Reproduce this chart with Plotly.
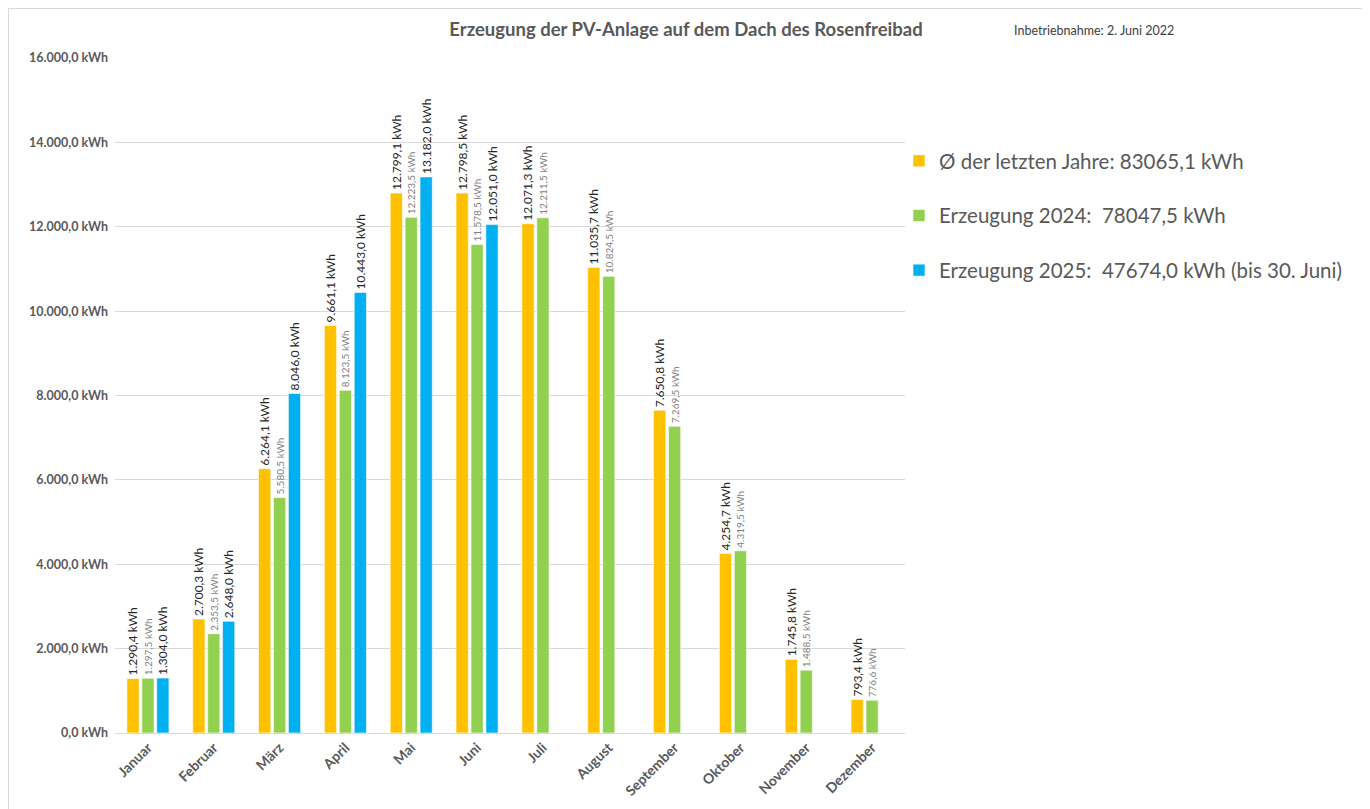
import plotly.graph_objects as go

months = ["Januar", "Februar", "März", "April", "Mai", "Juni", "Juli",
          "August", "September", "Oktober", "November", "Dezember"]
avg_years = [1290.4, 2700.3, 6264.1, 9661.1, 12799.1, 12798.5, 12071.3,
             11035.7, 7650.8, 4254.7, 1745.8, 793.4]
prod_2024 = [1297.5, 2353.5, 5580.5, 8123.5, 12223.5, 11578.5, 12211.5,
             10824.5, 7269.5, 4319.5, 1488.5, 776.6]
prod_2025 = [1304.0, 2648.0, 8046.0, 10443.0, 13182.0, 12051.0,
             None, None, None, None, None, None]
names = ["Ø der letzten Jahre: 83065,1 kWh",
         "Erzeugung 2024:  78047,5 kWh",
         "Erzeugung 2025:  47674,0 kWh (bis 30. Juni)"]
y_ticks = [0, 2000, 4000, 6000, 8000, 10000, 12000, 14000, 16000]
y_tick_text = [f"{v:,.1f}".replace(",", "X").replace(".", ",").replace("X", ".") + " kWh"
               for v in y_ticks]

FONT = "Lato, 'Open Sans', sans-serif"
GRAY = "#595959"

# page body has an 8px margin; figure coordinates are offset accordingly
OFF = 8
W, H = 1370 - OFF, 809 - OFF
L, R, T, B = 115 - OFF, 905 - OFF, 58 - OFF, 733 - OFF

fig = go.Figure()
series = [
    (avg_years, names[0], "#FFC000", 12, "#262626"),
    (prod_2024, names[1], "#92D050", 10, "#7f7f7f"),
    (prod_2025, names[2], "#00B0F0", 12, "#262626"),
]
for i, (vals, name, color, fsize, fcolor) in enumerate(series):
    fig.add_trace(go.Bar(
        x=months, y=vals, name=name, legendgroup=f"g{i}",
        marker=dict(color=color, line=dict(color="rgba(255,255,255,0.6)", width=1)),
        texttemplate="%{y:,.1f} kWh", textposition="outside", textangle=-90,
        textfont=dict(family=FONT, size=fsize, color=fcolor),
        cliponaxis=False, constraintext="none",
    ))

def px_x(p):
    return (p - OFF - L) / (R - L)

def px_y(p):
    return (B - (p - OFF)) / (B - T)

fig.update_layout(
    width=W, height=H,
    paper_bgcolor="white", plot_bgcolor="white",
    separators=",.",
    margin=dict(l=L, r=W - R, t=T, b=H - B, autoexpand=False),
    barmode="group", bargap=0.32, bargroupgap=0.18,
    font=dict(family=FONT, color=GRAY),
    title=dict(text="<b>Erzeugung der PV-Anlage auf dem Dach des Rosenfreibad</b>",
               x=(686 - OFF) / W, xref="container", xanchor="center",
               y=1 - (30 - OFF) / H, yref="container", yanchor="middle",
               font=dict(family=FONT, size=18.5, color=GRAY)),
    legend=dict(x=px_x(899), xanchor="left", y=px_y(141), yanchor="top",
                font=dict(family=FONT, size=20.5, color=GRAY),
                tracegroupgap=25, bgcolor="rgba(0,0,0,0)", itemwidth=30),
    showlegend=True,
)
fig.update_xaxes(
    tickangle=-45, showgrid=False, showline=True, linecolor="#d9d9d9",
    tickfont=dict(family=FONT, size=14, color=GRAY, weight="bold"),
    ticks="",
)
fig.update_yaxes(
    range=[0, 16000], tickvals=y_ticks, ticktext=y_tick_text,
    showgrid=True, gridcolor="#d9d9d9", gridwidth=1, zeroline=False,
    tickfont=dict(family=FONT, size=12.5, color=GRAY, weight="bold"),
    ticks="", ticklabelstandoff=6,
)
fig.add_annotation(text="Inbetriebnahme: 2. Juni 2022", xref="paper", yref="paper",
                   x=px_x(1012), y=px_y(30), xanchor="left", yanchor="middle",
                   showarrow=False, font=dict(family=FONT, size=12.5, color="#404040"))
# outer chart border (left, top, right)
bx0, bx1, by0, by1 = px_x(8.5), px_x(1364), px_y(812), px_y(8.5)
fig.add_shape(type="path", xref="paper", yref="paper",
              path=f"M {bx0} {by0} L {bx0} {by1} L {bx1} {by1} L {bx1} {by0}",
              line=dict(color="#d9d9d9", width=1), layer="below")

fig.write_html("out.html")
